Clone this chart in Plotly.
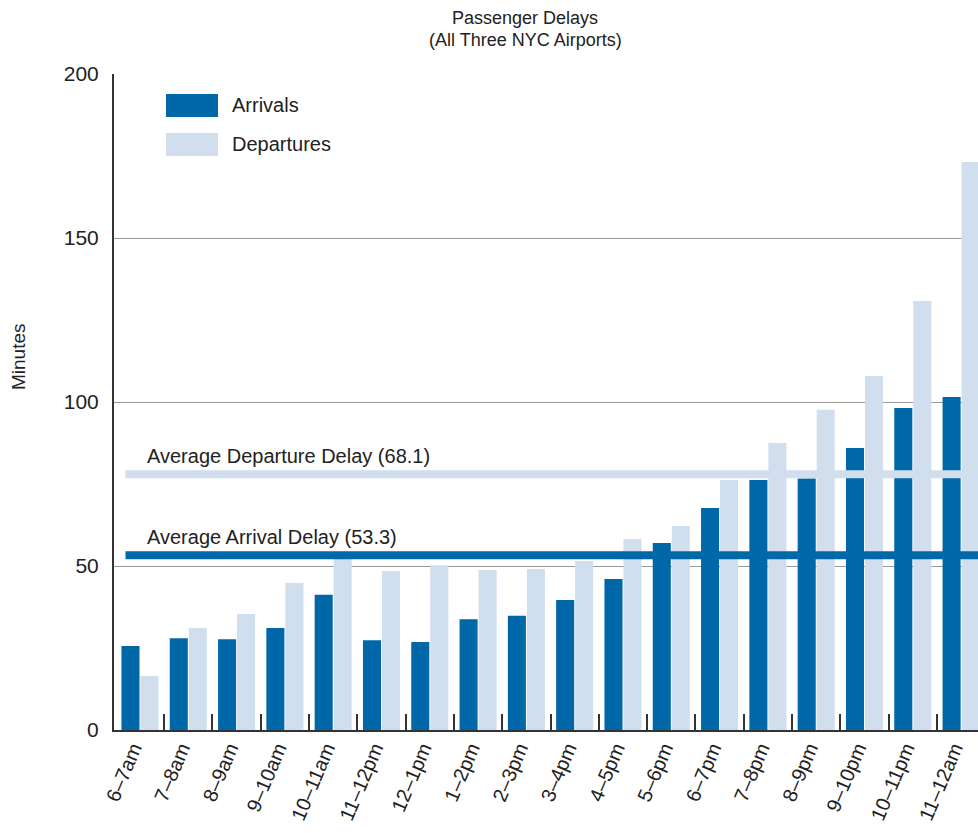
import plotly.graph_objects as go

# ---- data ----
time_slots = ["6–7am", "7–8am", "8–9am", "9–10am", "10–11am", "11–12pm", "12–1pm",
              "1–2pm", "2–3pm", "3–4pm", "4–5pm", "5–6pm", "6–7pm", "7–8pm",
              "8–9pm", "9–10pm", "10–11pm", "11–12am"]
arrivals = [25.6, 28.0, 27.7, 31.1, 41.2, 27.4, 26.8, 33.8, 34.8, 39.6, 46.0, 57.0,
            67.7, 76.2, 76.7, 86.0, 98.2, 101.5]
departures = [16.5, 31.1, 35.4, 44.8, 52.7, 48.5, 50.2, 48.8, 49.1, 51.5, 58.2, 62.2,
              76.2, 87.5, 97.6, 107.9, 130.8, 173.2]
avg_labels = ["Average Departure Delay (68.1)", "Average Arrival Delay (53.3)"]
avg_levels = [78.0, 53.3]          # where the reference draws the two average bars
y_ticks = [0, 50, 100, 150, 200]
title_lines = ["Passenger Delays", "(All Three NYC Airports)"]

DARK = "#0067A9"
LIGHT = "#D1DEEE"
TXT = "#222222"
FONT = "Liberation Sans, Arial, sans-serif"

W, H = 978, 833
L, T, B = 114, 74, 103
PW, PH = W - L, H - T - B


def px_x(px):  # window pixel -> paper x
    return (px - L) / PW


def px_y(py):  # window pixel -> paper y
    return (H - B - py) / PH


idx = list(range(len(time_slots)))
boundaries = [i + 0.5 for i in idx[:-1]]

fig = go.Figure()
fig.add_trace(go.Bar(x=idx, y=arrivals, name="Arrivals", marker_color=DARK,
                     marker_line_width=0, showlegend=False))
fig.add_trace(go.Bar(x=idx, y=departures, name="Departures", marker_color=LIGHT,
                     marker_line_width=0, showlegend=False))

# average lines (drawn above bars)
for lvl, col in zip(avg_levels, [LIGHT, DARK]):
    fig.add_shape(type="line", xref="x", yref="y", x0=-0.3, x1=17.6, y0=lvl, y1=lvl,
                  line=dict(color=col, width=8), layer="above")
for lvl, txt in zip(avg_levels, avg_labels):
    fig.add_annotation(x=0.1, y=lvl, xref="x", yref="y", text=txt, showarrow=False,
                       xanchor="left", yanchor="bottom", yshift=5,
                       font=dict(size=20, color=TXT, family=FONT))

# custom legend (large swatches)
legend_items = [("Arrivals", DARK), ("Departures", LIGHT)]
for k, (name, col) in enumerate(legend_items):
    y_top = 94 + 39 * k
    fig.add_shape(type="rect", xref="paper", yref="paper",
                  x0=px_x(166), x1=px_x(218),
                  y0=px_y(y_top + 23), y1=px_y(y_top),
                  fillcolor=col, line_width=0, layer="above")
    fig.add_annotation(xref="paper", yref="paper", x=px_x(230),
                       y=px_y(y_top + 11.5), text=name, showarrow=False,
                       xanchor="left", yanchor="middle",
                       font=dict(size=20, color=TXT, family=FONT))

# title (two centred lines)
for k, line in enumerate(title_lines):
    fig.add_annotation(xref="paper", yref="paper", x=px_x(525), y=px_y(18 + 22 * k),
                       text=line, showarrow=False, xanchor="center", yanchor="middle",
                       font=dict(size=18, color=TXT, family=FONT))

# y-axis title
fig.add_annotation(xref="paper", yref="paper", x=px_x(18), y=px_y(357),
                   text="Minutes", textangle=-90, showarrow=False,
                   xanchor="center", yanchor="middle",
                   font=dict(size=19, color=TXT, family=FONT))

fig.update_layout(
    width=W, height=H,
    margin=dict(l=L, r=0, t=T, b=B, autoexpand=False),
    paper_bgcolor="white", plot_bgcolor="white",
    barmode="group", bargap=0.213, bargroupgap=0.05,
    font=dict(family=FONT, color=TXT),
    xaxis=dict(type="linear", range=[-0.538, 17.35], tickvals=idx, ticktext=time_slots,
               tickangle=-67, ticks="", showgrid=False, zeroline=False, automargin=False,
               showline=True, linecolor="#333333", linewidth=2,
               ticklabelshift=-7, ticklabelstandoff=-3,
               tickfont=dict(size=20, color=TXT, family=FONT)),
    xaxis2=dict(type="linear", overlaying="x", matches="x", anchor="y", side="bottom",
                tickvals=boundaries, ticks="inside", ticklen=16, tickwidth=2,
                tickcolor="#333333", showticklabels=False, showgrid=False,
                zeroline=False, showline=False, automargin=False),
    yaxis=dict(range=[0, 200], tickvals=y_ticks, showgrid=True, gridcolor="#9a9a9a",
               gridwidth=1, zeroline=False, showline=True, linecolor="#333333",
               linewidth=2, ticks="", ticklabelstandoff=9, automargin=False,
               tickfont=dict(size=21, color=TXT, family=FONT)),
)
# invisible point so that the boundary-tick axis is rendered
fig.add_trace(go.Scatter(x=[idx[0]], y=[0], xaxis="x2", mode="markers",
                         marker=dict(opacity=0), showlegend=False, hoverinfo="skip"))

# remove the default page margin so the figure fills the 978x833 window exactly
fig.write_html(
    "out.html",
    config={"displayModeBar": False},
    post_script="document.body.style.margin='0';document.body.style.overflow='hidden';",
)
